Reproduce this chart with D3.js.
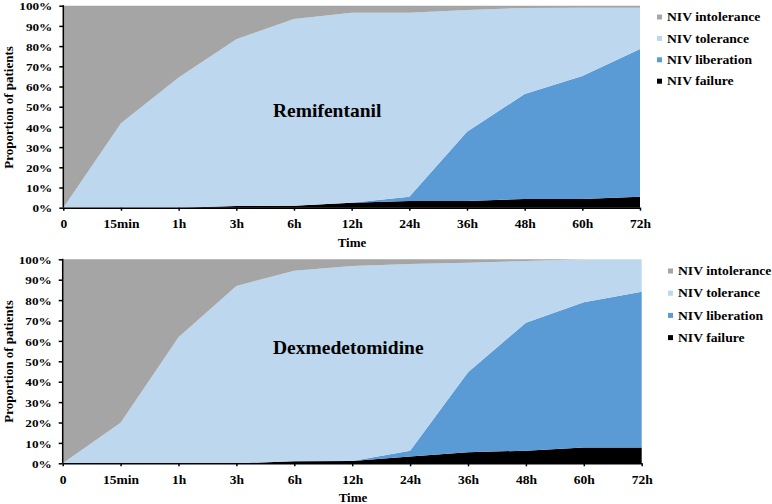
<!DOCTYPE html>
<html>
<head>
<meta charset="utf-8">
<script src="https://cdn.jsdelivr.net/npm/d3@7"></script>
<style>
  body { margin: 0; background: #fff; }
  svg text { font-family: "Liberation Serif", "Times New Roman", serif; font-weight: bold; fill: #000; }
</style>
</head>
<body>
<svg id="chart" width="772" height="504"></svg>
<script>
"use strict";

// time points on the x axis
const timePoints = ["0", "15min", "1h", "3h", "6h", "12h", "24h", "36h", "48h", "60h", "72h"];
const yTicks = [0, 10, 20, 30, 40, 50, 60, 70, 80, 90, 100];
const seriesNames = ["NIV failure", "NIV liberation", "NIV tolerance", "NIV intolerance"];
const seriesColors = ["#000000", "#5b9bd5", "#bdd7ee", "#a5a5a5"];

// Remifentanil group (percent of patients)
const remiFailure     = [0, 0, 0, 0.8, 1, 2.5, 3.3, 3.3, 4.3, 4.3, 5.4];
const remiLiberation  = [0, 0, 0, 0, 0, 0, 2.1, 34.3, 52, 60.9, 73.2];
const remiTolerance   = [0, 41.8, 64.5, 82.6, 92.4, 94, 91.1, 60.3, 42.6, 33.8, 20.4];
const remiIntolerance = [100, 58.2, 35.5, 16.6, 6.6, 3.5, 3.5, 2.1, 1.1, 1, 1];

// Dexmedetomidine group (percent of patients)
const dexFailure     = [0, 0, 0, 0, 1, 1.1, 3.3, 5.4, 6.2, 7.7, 7.7];
const dexLiberation  = [0, 0, 0, 0, 0, 0, 2.9, 39.2, 62.7, 71.2, 76.4];
const dexTolerance   = [0, 19.9, 61.8, 86.9, 93.4, 95.6, 91.5, 53.7, 30.3, 21.1, 15.9];
const dexIntolerance = [100, 80.1, 38.2, 13.1, 5.6, 3.3, 2.3, 1.7, 0.8, 0, 0];

const svg = d3.select("#chart");

// the y tick labels and legend of the original are drawn a little wide
const Y_LABEL_STRETCH = 1.2;
const LEGEND_STRETCH = 1.12;

/* Draw one stacked area panel */
function draw_panel(opts) {
  let rows = timePoints.map((t, i) => ({
    time: t,
    "NIV failure": opts.series[0][i],
    "NIV liberation": opts.series[1][i],
    "NIV tolerance": opts.series[2][i],
    "NIV intolerance": opts.series[3][i]
  }));

  let xScale = d3.scalePoint().domain(timePoints).range([opts.x0, opts.x1]);
  let yScale = d3.scaleLinear().domain([0, 100]).range([opts.y0, opts.y1]);

  let stacked = d3.stack().keys(seriesNames)(rows);

  let area = d3.area()
      .x((d) => xScale(d.data.time))
      .y0((d) => yScale(d[0]))
      .y1((d) => yScale(d[1]));

  let g = svg.append("g");

  g.selectAll(".layer")
      .data(stacked)
      .enter().append("path")
      .attr("class", "layer")
      .attr("d", area)
      .attr("fill", (d, i) => seriesColors[i]);

  // group name inside the plot
  g.append("text")
      .attr("x", opts.titleX)
      .attr("y", opts.titleY)
      .style("font-size", "19.5px")
      .text(opts.title);

  // y axis
  let yAxis = g.append("g")
      .attr("transform", `translate(${opts.x0},0)`)
      .call(d3.axisLeft(yScale).tickValues(yTicks).tickSize(4).tickPadding(5.2).tickFormat((d) => d + "%"));

  // x axis
  let xAxis = g.append("g")
      .attr("transform", `translate(0,${opts.y0})`)
      .call(d3.axisBottom(xScale).tickSize(3).tickSizeOuter(0).tickPadding(8));

  [yAxis, xAxis].forEach((ax) => {
    ax.selectAll("path, line").attr("stroke", "#000").attr("stroke-width", 1.5);
    ax.selectAll("text")
        .style("font-family", "'Liberation Serif', 'Times New Roman', serif")
        .style("font-weight", "bold")
        .attr("fill", "#000");
  });
  xAxis.selectAll("text").style("font-size", "13.5px");
  yAxis.selectAll("text")
      .style("font-size", "11px")
      .attr("dy", "0.38em")
      .attr("transform", `scale(${Y_LABEL_STRETCH},1)`);
  yAxis.select(".domain").attr("d", `M0,${opts.y0}V${opts.y1 - 0.5}`);

  // axis titles
  g.append("text")
      .attr("transform", `translate(${opts.yTitleX},${opts.yTitleY}) rotate(-90)`)
      .attr("text-anchor", "middle")
      .style("font-size", "13px")
      .text("Proportion of patients");

  g.append("text")
      .attr("x", opts.xTitleX)
      .attr("y", opts.xTitleY)
      .attr("text-anchor", "middle")
      .style("font-size", "13px")
      .text("Time");

  // legend, drawn top to bottom in reverse stacking order
  let legendItems = seriesNames.map((n, i) => ({ name: n, color: seriesColors[i] })).reverse();
  let legend = g.append("g")
      .selectAll(".legendItem")
      .data(legendItems)
      .enter().append("g")
      .attr("class", "legendItem")
      .attr("transform", (d, i) => `translate(${opts.legendX},${opts.legendY + i * opts.legendStep})`);

  legend.append("rect")
      .attr("x", 0)
      .attr("y", -2.5)
      .attr("width", 5)
      .attr("height", 5)
      .attr("fill", (d) => d.color);

  legend.append("text")
      .attr("x", 10 / LEGEND_STRETCH)
      .attr("y", 0)
      .attr("dy", "0.35em")
      .attr("transform", `scale(${LEGEND_STRETCH},1)`)
      .style("font-size", "12.2px")
      .text((d) => d.name);
}

draw_panel({
  series: [remiFailure, remiLiberation, remiTolerance, remiIntolerance],
  title: "Remifentanil",
  x0: 63.3, x1: 640, y0: 207.7, y1: 5.7,
  titleX: 273, titleY: 117,
  yTitleX: 13, yTitleY: 107.5,
  xTitleX: 352, xTitleY: 246.5,
  legendX: 657, legendY: 17, legendStep: 21.4
});

draw_panel({
  series: [dexFailure, dexLiberation, dexTolerance, dexIntolerance],
  title: "Dexmedetomidine",
  x0: 62.7, x1: 641.7, y0: 463.3, y1: 259.3,
  titleX: 273, titleY: 354,
  yTitleX: 13, yTitleY: 361.5,
  xTitleX: 353, xTitleY: 502,
  legendX: 668, legendY: 271, legendStep: 22.2
});
</script>
</body>
</html>
